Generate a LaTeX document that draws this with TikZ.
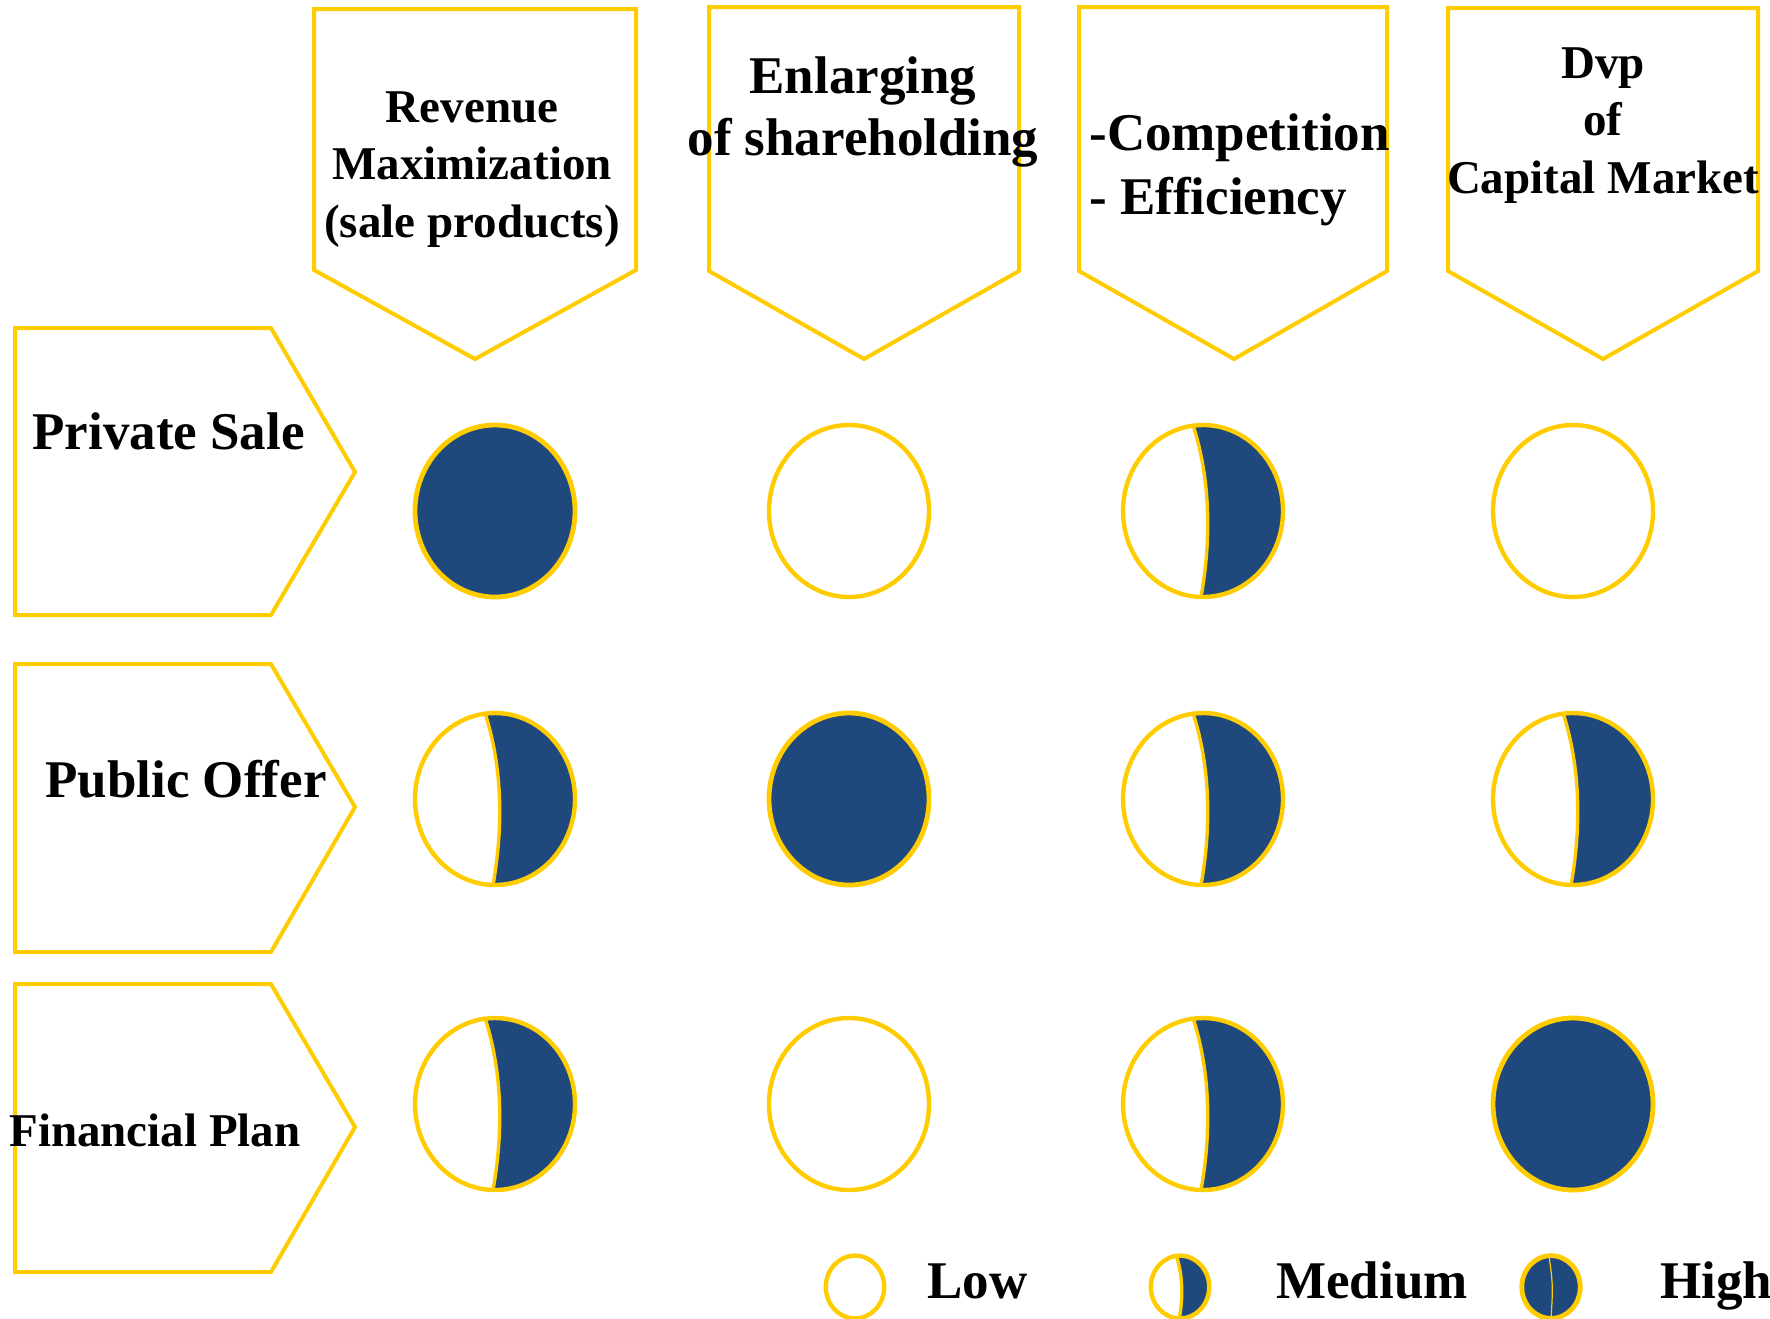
\documentclass[tikz,border=0pt]{standalone}
\usepackage{fontspec}
\setmainfont{Liberation Serif}
\definecolor{ringgold}{HTML}{FFCC00}
\definecolor{moonblue}{HTML}{1F497D}
\newcommand{\bigtxt}{\fontsize{26.5}{31}\selectfont\bfseries}
\newcommand{\midtxt}{\fontsize{23.5}{28.75}\selectfont\bfseries}
\tikzset{
  ring/.style={draw=ringgold, line width=2.2pt},
  tag/.style={draw=ringgold, line width=2pt, fill=white},
  lbl/.style={inner sep=0pt, text=black},
  pics/low/.style={code={
    \draw[ring] (0,0) ellipse (80 and 86);
  }},
  pics/high/.style={code={
    \fill[moonblue] (0,0) ellipse (80 and 86);
    \draw[ring, line width=2.4pt] (0,0) ellipse (80 and 86);
  }},
  pics/medium/.style={code={
    \begin{scope}
      \clip (0,0) ellipse (80 and 86);
      \fill[moonblue] (-10,-90) .. controls (8,-30) and (8,30) .. (-2,90) -- (90,90) -- (90,-90) -- cycle;
    \end{scope}
    \draw[ring, line width=1.7pt] (-10,-86) .. controls (8,-30) and (8,30) .. (-2,86);
    \draw[ring] (0,0) ellipse (80 and 86);
  }}
}

\begin{document}
\begin{tikzpicture}[x=0.5pt, y=-0.5pt]
\useasboundingbox (0,0) rectangle (1770,1318);
\draw[tag] (314,9) -- (636,9) -- (636,270) -- (475,359) -- (314,270) -- cycle;
\draw[tag] (709,7) -- (1019,7) -- (1019,271) -- (864,359) -- (709,271) -- cycle;
\draw[tag] (1079,7) -- (1387,7) -- (1387,271) -- (1234,359) -- (1079,271) -- cycle;
\draw[tag] (1448,8) -- (1758,8) -- (1758,271) -- (1603,359) -- (1448,271) -- cycle;
\draw[tag] (15,328) -- (271,328) -- (355,472) -- (271,615) -- (15,615) -- cycle;
\draw[tag] (15,664) -- (271,664) -- (355,807) -- (271,952) -- (15,952) -- cycle;
\draw[tag] (15,984) -- (271,984) -- (355,1127) -- (271,1272) -- (15,1272) -- cycle;

\node[lbl, anchor=base, align=center, font=\midtxt] (revenue) at (472,237) {Revenue\\Maximization\\(sale products)};
\node[lbl, anchor=base, align=center, font=\bigtxt] (enlarging) at (863,155) {Enlarging\\of shareholding};
\node[lbl, anchor=base west, align=left, font=\fontsize{26.5}{32}\selectfont\bfseries] (competition) at (1089,214) {-Competition\\- Efficiency};
\node[lbl, anchor=base, align=center, font=\midtxt] (capital) at (1603,193) {Dvp\\of\\Capital Market};

\node[lbl, anchor=base west, font=\bigtxt] (private) at (32,449) {Private Sale};
\node[lbl, anchor=base west, font=\bigtxt] (public) at (45,797) {Public Offer};
\node[lbl, anchor=base west, font=\midtxt] (financial) at (9,1146) {Financial Plan};

\pic (ps1) at (495,511) {high};
\pic (ps2) at (849,511) {low};
\pic (ps3) at (1203,511) {medium};
\pic (ps4) at (1573,511) {low};
\pic (po1) at (495,799) {medium};
\pic (po2) at (849,799) {high};
\pic (po3) at (1203,799) {medium};
\pic (po4) at (1573,799) {medium};
\pic (fp1) at (495,1104) {medium};
\pic (fp2) at (849,1104) {low};
\pic (fp3) at (1203,1104) {medium};
\pic (fp4) at (1573,1104) {high};

\pic[scale=0.365] (lowkey) at (855,1287) {low};
\pic[scale=0.365] (medkey) at (1180,1287) {medium};
\pic[scale=0.365] (highkey) at (1551,1287) {high};
\draw[ringgold, line width=0.6pt] (1549,1256) .. controls (1553,1285) .. (1551,1320);
\node[lbl, anchor=base west, font=\bigtxt] (low) at (927,1298) {Low};
\node[lbl, anchor=base west, font=\bigtxt] (medium) at (1276,1298) {Medium};
\node[lbl, anchor=base west, font=\bigtxt] (high) at (1660,1298) {High};
\end{tikzpicture}
\end{document}
